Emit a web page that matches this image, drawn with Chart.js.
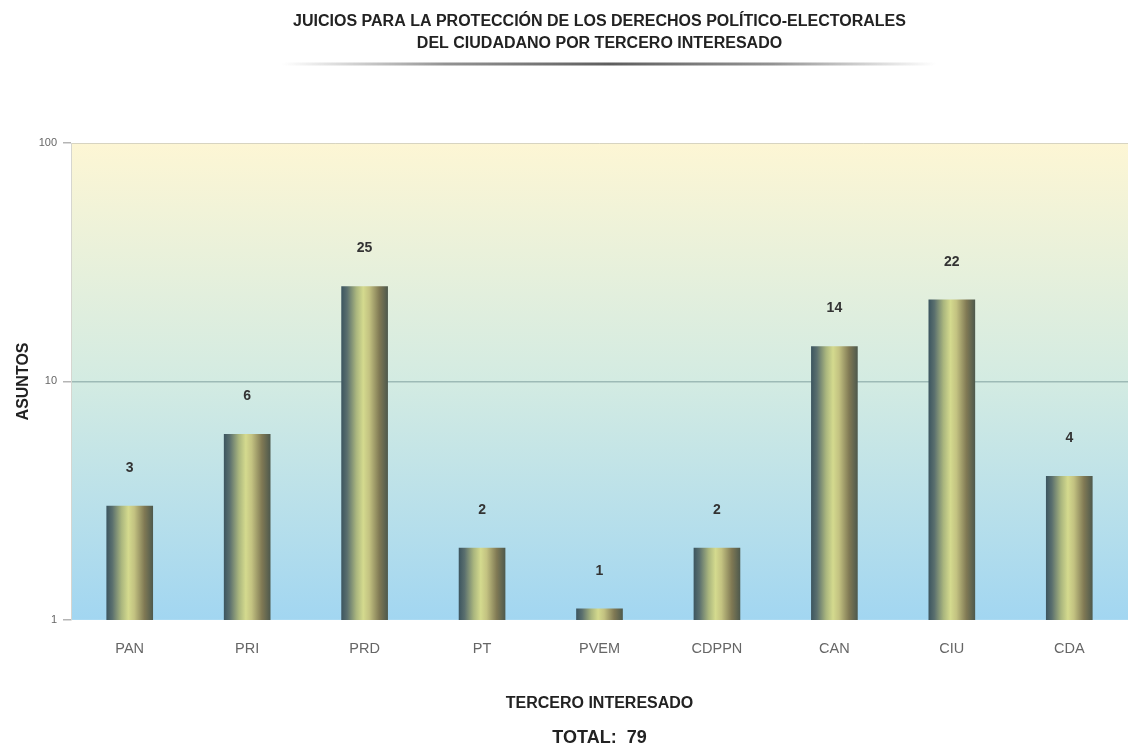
<!DOCTYPE html>
<html>
<head>
<meta charset="utf-8">
<script src="https://cdn.jsdelivr.net/npm/chart.js@4.4.1/dist/chart.umd.min.js"></script>
<style>
  html, body { margin: 0; padding: 0; background: #ffffff; }
  #wrap { width: 1128px; height: 749px; }
</style>
</head>
<body>
<div id="wrap"><canvas id="chart" width="1128" height="749"></canvas></div>
<script>
// Asuntos por tercero interesado
const categories = ['PAN', 'PRI', 'PRD', 'PT', 'PVEM', 'CDPPN', 'CAN', 'CIU', 'CDA'];
const asuntos = [3, 6, 25, 2, 1, 2, 14, 22, 4];
const yTickValues = [1, 10, 100];
const titleLines = [
  'JUICIOS PARA LA PROTECCIÓN DE LOS DERECHOS POLÍTICO-ELECTORALES',
  'DEL CIUDADANO POR TERCERO INTERESADO'
];
const xTitle = 'TERCERO INTERESADO';
const total = asuntos.reduce((a, b) => a + b, 0);

const FONT = '"Liberation Sans", Arial, sans-serif';
const BAR_W = 46;

// Cylinder-like shading across each bar
function barGradient(c) {
  const chart = c.chart;
  const xs = chart.scales && chart.scales.x;
  if (!xs || c.dataIndex === undefined || !chart.chartArea) return '#b8bd7e';
  const cx = xs.getPixelForValue(c.dataIndex);
  const g = chart.ctx.createLinearGradient(cx - BAR_W / 2, 0, cx + BAR_W / 2, 0);
  g.addColorStop(0.00, '#3d5660');
  g.addColorStop(0.12, '#5a6f6e');
  g.addColorStop(0.32, '#aab67e');
  g.addColorStop(0.47, '#d4da8e');
  g.addColorStop(0.60, '#c3c281');
  g.addColorStop(0.82, '#807954');
  g.addColorStop(1.00, '#4f5a4d');
  return g;
}

// Pale yellow to sky blue fill behind the plot
const plotBackground = {
  id: 'plotBackground',
  beforeDraw(chart) {
    const { ctx, chartArea: a } = chart;
    const g = ctx.createLinearGradient(0, a.top, 0, a.bottom);
    g.addColorStop(0.00, '#fdf6d4');
    g.addColorStop(0.50, '#d3ebe2');
    g.addColorStop(1.00, '#a2d6f1');
    ctx.save();
    ctx.fillStyle = g;
    ctx.fillRect(a.left, a.top, a.right - a.left, a.bottom - a.top);
    ctx.strokeStyle = 'rgba(190,190,180,0.6)';
    ctx.lineWidth = 1;
    ctx.beginPath();
    ctx.moveTo(a.left, a.top + 0.5);
    ctx.lineTo(a.right, a.top + 0.5);
    ctx.stroke();
    ctx.restore();
  }
};

// Shaded rule under the heading
const titleRule = {
  id: 'titleRule',
  afterDraw(chart) {
    const { ctx } = chart;
    const x0 = 282, x1 = 936, y = 64;
    const g = ctx.createLinearGradient(x0, 0, x1, 0);
    g.addColorStop(0.0, 'rgba(120,120,120,0)');
    g.addColorStop(0.25, 'rgba(110,110,110,0.75)');
    g.addColorStop(0.5, 'rgba(85,85,85,0.95)');
    g.addColorStop(0.75, 'rgba(110,110,110,0.75)');
    g.addColorStop(1.0, 'rgba(120,120,120,0)');
    ctx.save();
    ctx.fillStyle = g;
    ctx.fillRect(x0, y - 1.5, x1 - x0, 3);
    ctx.restore();
  }
};

// Value printed above each bar
const valueLabels = {
  id: 'valueLabels',
  afterDatasetsDraw(chart) {
    const { ctx } = chart;
    const meta = chart.getDatasetMeta(0);
    ctx.save();
    ctx.font = 'bold 14px ' + FONT;
    ctx.fillStyle = '#333333';
    ctx.textAlign = 'center';
    ctx.textBaseline = 'middle';
    meta.data.forEach((el, i) => {
      ctx.fillText(String(chart.data.datasets[0].data[i]), el.x, el.y - 38);
    });
    ctx.restore();
  }
};

new Chart(document.getElementById('chart'), {
  type: 'bar',
  data: {
    labels: categories,
    datasets: [{
      data: asuntos,
      backgroundColor: barGradient,
      borderWidth: 0,
      barThickness: BAR_W,
      minBarLength: 11
    }]
  },
  options: {
    responsive: false,
    animation: false,
    devicePixelRatio: 1,
    layout: { padding: { left: 0, right: 0, top: 0, bottom: 0 } },
    plugins: {
      legend: { display: false },
      tooltip: { enabled: false },
      title: {
        display: true,
        fullSize: false,
        text: titleLines,
        color: '#222222',
        font: { family: FONT, size: 16, weight: 'bold', lineHeight: '22px' },
        padding: { top: 10.5, bottom: 88.5 }
      },
      subtitle: {
        display: true,
        fullSize: false,
        position: 'bottom',
        text: 'TOTAL:  ' + total,
        color: '#222222',
        font: { family: FONT, size: 18, weight: 'bold', lineHeight: '21.6px' },
        padding: { top: 2, bottom: 0.5 }
      }
    },
    scales: {
      x: {
        type: 'category',
        offset: true,
        grid: { display: false, drawTicks: false },
        border: { display: false },
        ticks: {
          color: '#666666',
          font: { family: FONT, size: 14.5 },
          padding: 20,
          maxRotation: 0
        },
        title: {
          display: true,
          text: xTitle,
          color: '#222222',
          font: { family: FONT, size: 16, weight: 'bold' },
          padding: { top: 0, bottom: 11.4 }
        },
        afterFit(scale) { scale.height = 105; }
      },
      y: {
        type: 'logarithmic',
        min: 1,
        max: 100,
        afterBuildTicks(scale) {
          scale.ticks = yTickValues.map(v => ({ value: v, major: true }));
        },
        ticks: {
          color: '#666666',
          font: { family: FONT, size: 11 },
          padding: 6,
          callback: (v) => String(v)
        },
        grid: {
          color: (c) => (c.tick && c.tick.value === 10 ? '#9dbab6' : 'rgba(0,0,0,0)'),
          lineWidth: 1.5,
          tickColor: '#b5b5b5',
          tickLength: 8
        },
        border: { display: true, color: '#d6d6d0' },
        title: {
          display: true,
          text: 'ASUNTOS',
          color: '#222222',
          font: { family: FONT, size: 16, weight: 'bold' },
          padding: { top: 14.4, bottom: 0 }
        },
        afterFit(scale) { scale.width = 71; }
      }
    }
  },
  plugins: [plotBackground, titleRule, valueLabels]
});
</script>
</body>
</html>
